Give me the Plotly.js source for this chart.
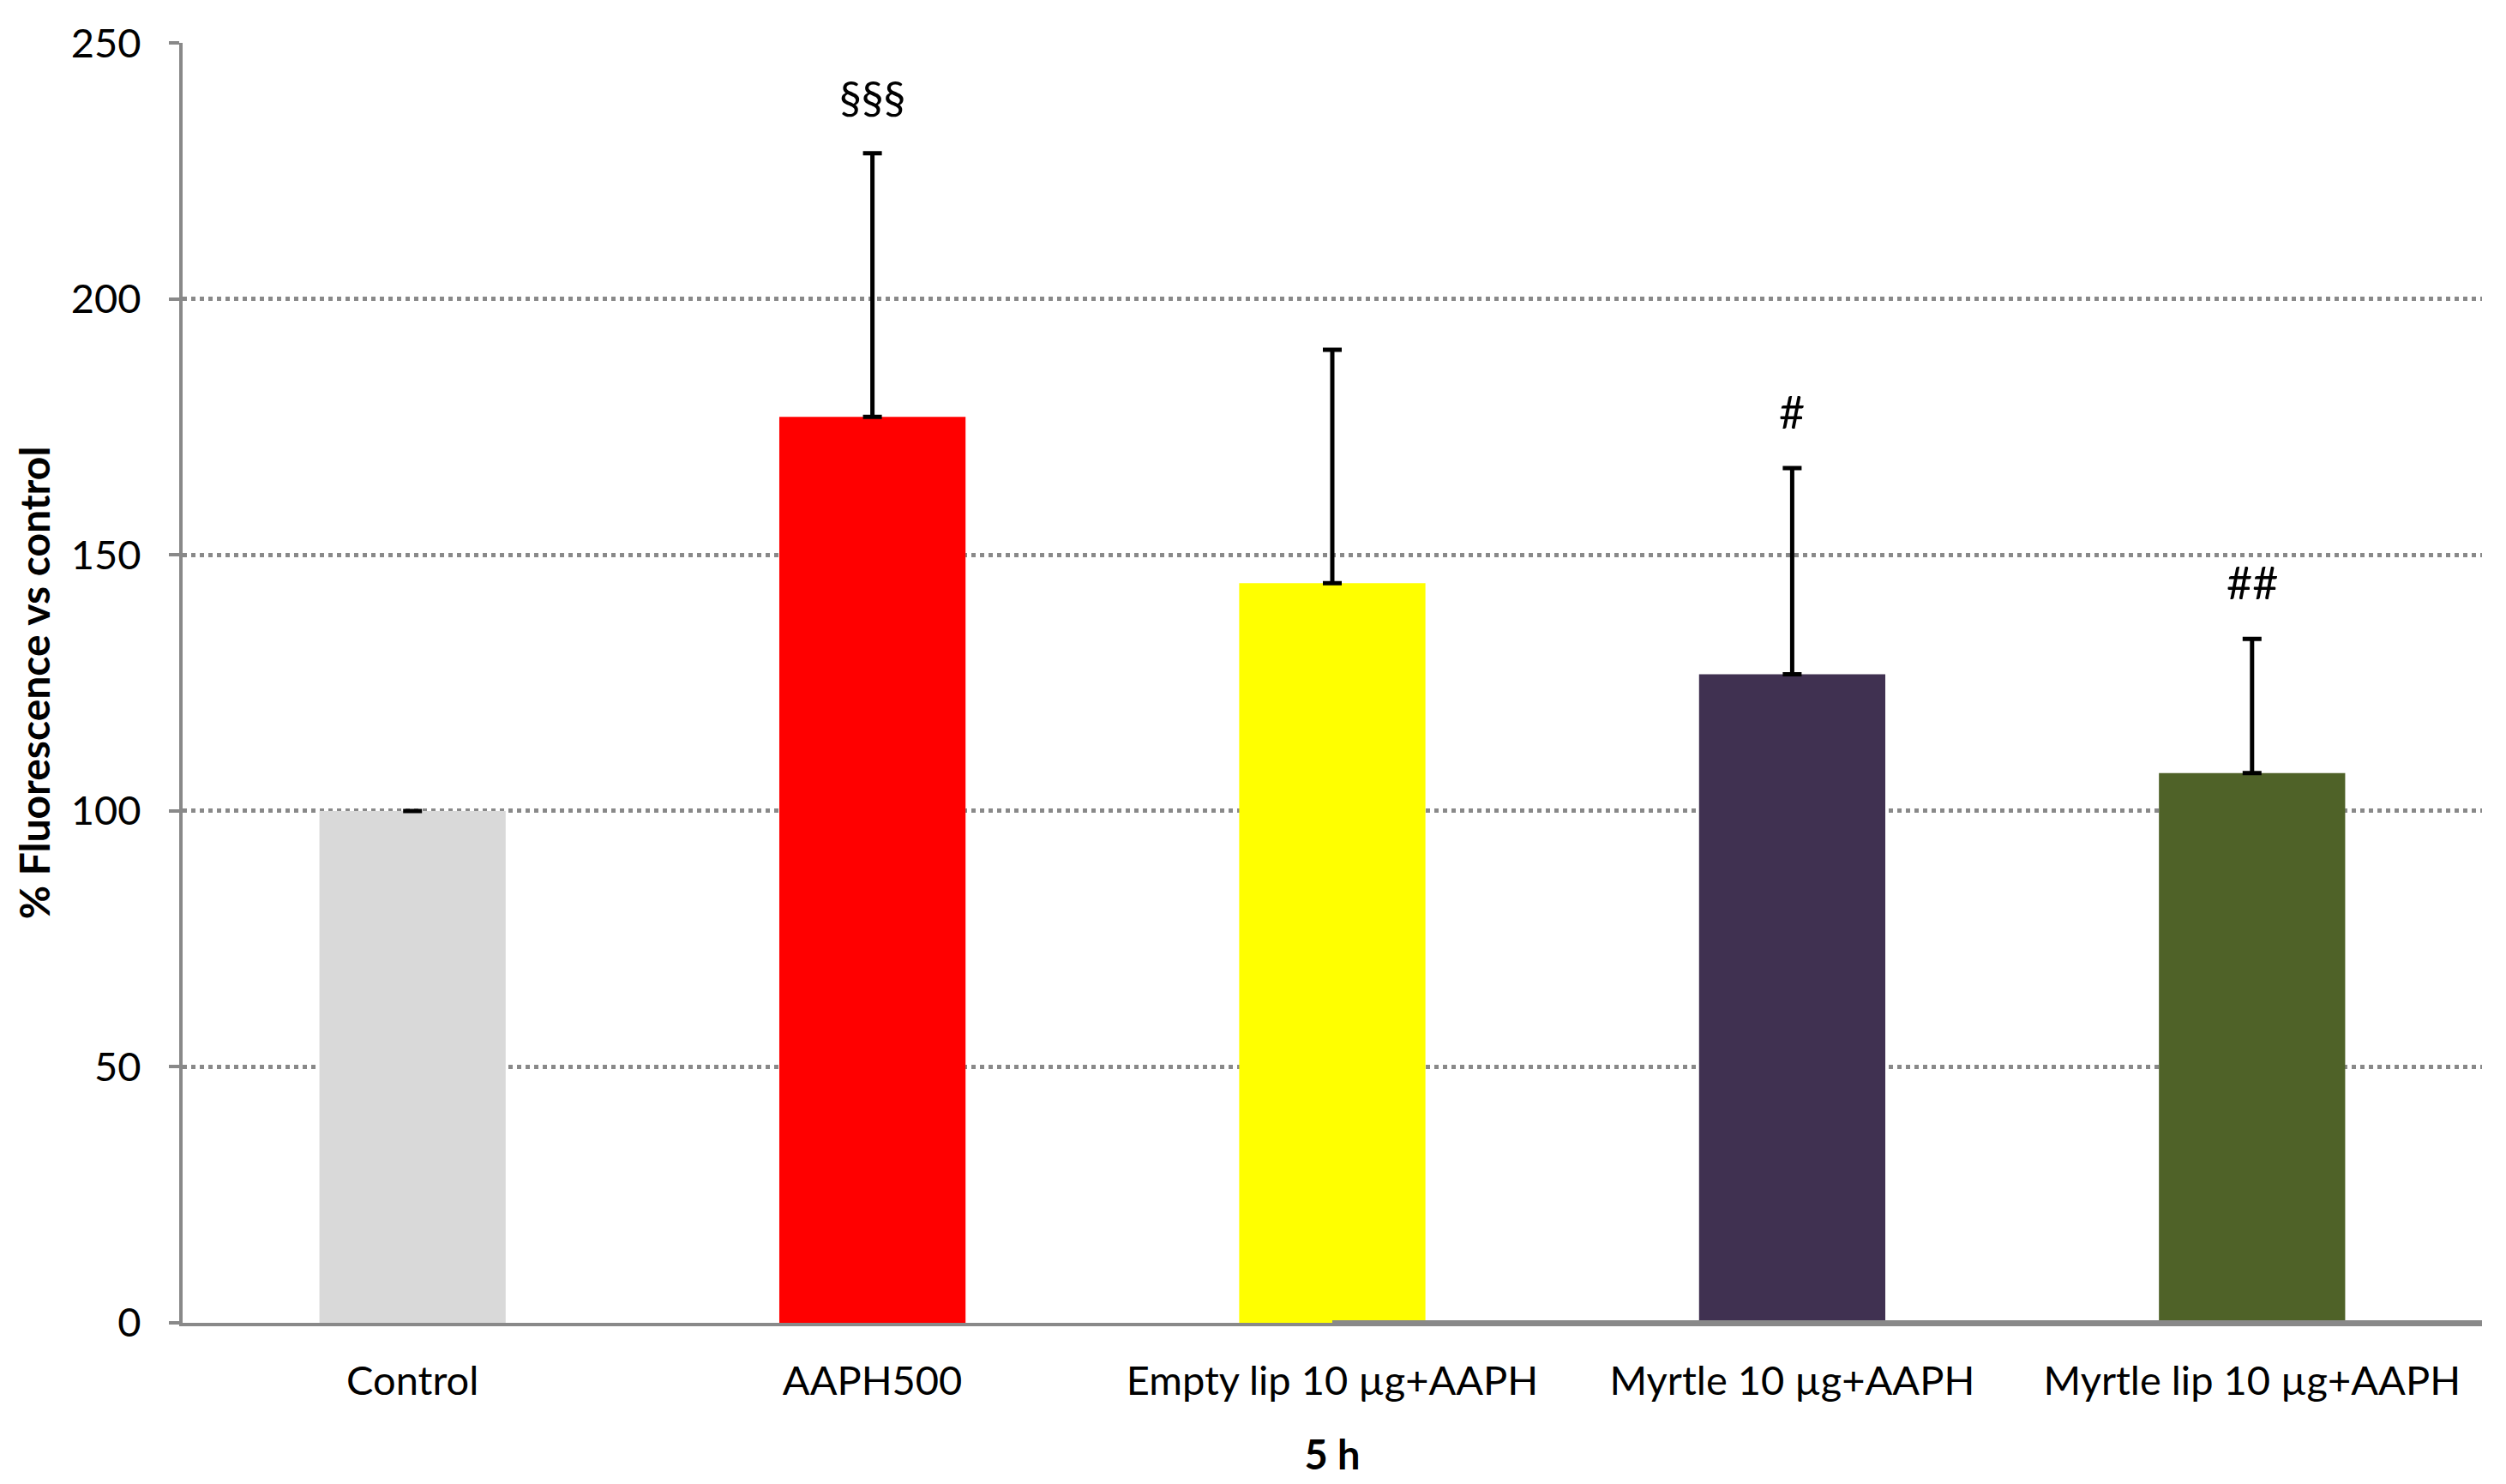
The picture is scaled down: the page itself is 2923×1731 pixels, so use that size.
<!DOCTYPE html>
<html><head><meta charset="utf-8">
<script src="https://cdn.plot.ly/plotly-3.0.1.min.js"></script>
<style>html,body{margin:0;padding:0;background:#fff}#chart{width:2923px;height:1731px}</style>
</head><body><div id="chart"></div>
<script>
const categories = ["Control", "AAPH500", "Empty lip 10 µg+AAPH", "Myrtle 10 µg+AAPH", "Myrtle lip 10 µg+AAPH"];
const meanValues = [100, 177, 144.5, 126.7, 107.4];
const sdValues = [0, 51.5, 45.6, 40.3, 26.2];
const barColors = ["#d9d9d9", "#ff0000", "#ffff00", "#403151", "#4f6228"];
const significance = ["", "§§§", "", "#", "##"];
const yTicks = [0, 50, 100, 150, 200, 250];

const FONT = "Lato, Carlito, Calibri, 'Liberation Sans', sans-serif";
const AXIS_GRAY = "#898989";

const trace = {
  type: "bar",
  x: categories,
  y: meanValues,
  width: 0.405,
  marker: {color: barColors, line: {width: 0}},
  error_y: {
    type: "data", symmetric: false,
    array: sdValues, arrayminus: sdValues.map(() => 0),
    color: "#000000", thickness: 5, width: 11, visible: true
  },
  hoverinfo: "skip"
};

const annotations = significance.map((s, i) => ({
  x: categories[i], y: meanValues[i] + sdValues[i],
  xref: "x", yref: "y", text: s, showarrow: false,
  yshift: 66, yanchor: "middle", xanchor: "center",
  font: {family: FONT, size: 52, color: "#000"}
})).filter(a => a.text !== "");

const layout = {
  width: 2923, height: 1731,
  margin: {l: 213, r: 28, t: 50, b: 188},
  paper_bgcolor: "#ffffff", plot_bgcolor: "#ffffff",
  showlegend: false,
  font: {family: FONT, size: 47, color: "#000"},
  xaxis: {
    type: "category", range: [-0.5, 4.5],
    showline: true, linecolor: AXIS_GRAY, linewidth: 4,
    ticks: "", showgrid: false, zeroline: false,
    tickfont: {family: FONT, size: 47, color: "#000"},
    ticklabelstandoff: 24,
    title: {text: "<b>5 h</b>", font: {family: FONT, size: 47, color: "#000"}, standoff: 46}
  },
  yaxis: {
    range: [0, 250.05], tickmode: "array", tickvals: yTicks, ticktext: yTicks.map(String),
    showline: true, linecolor: AXIS_GRAY, linewidth: 4,
    ticks: "outside", ticklen: 12, tickwidth: 4, tickcolor: AXIS_GRAY,
    showgrid: true, gridcolor: AXIS_GRAY, gridwidth: 5, griddash: "5px,5px",
    zeroline: false,
    tickfont: {family: FONT, size: 47, color: "#000"},
    ticklabelstandoff: 23,
    title: {text: "<b>% Fluorescence vs control</b>", font: {family: FONT, size: 48, color: "#000"}, standoff: 10}
  },
  annotations: annotations,
  shapes: [{
    type: "line", xref: "x", yref: "y",
    x0: 2, x1: 4.5, y0: 0, y1: 0,
    line: {color: AXIS_GRAY, width: 6}, layer: "above"
  }]
};

Plotly.newPlot("chart", [trace], layout, {displayModeBar: false, staticPlot: true});
</script>
</body></html>
